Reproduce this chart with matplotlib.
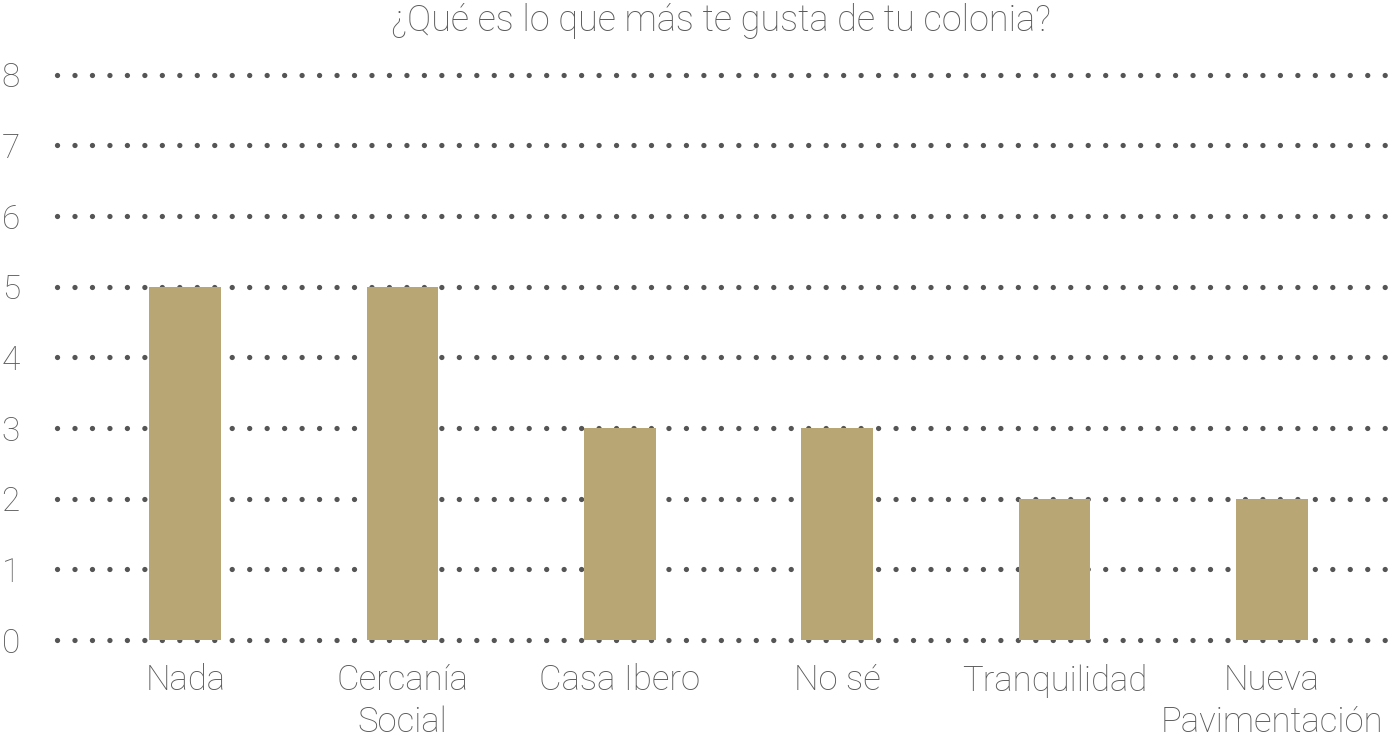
import matplotlib
import numpy as np
from matplotlib import pyplot as plt

# Data
categories = ['Nada', 'Cercanía\nSocial', 'Casa Ibero', 'No sé', 'Tranquilidad', 'Nueva\nPavimentación']
counts = [5, 5, 3, 3, 2, 2]
y_ticks = [0, 1, 2, 3, 4, 5, 6, 7, 8]
title = '¿Qué es lo que más te gusta de tu colonia?'

# Plot aspects
bar_color = '#b8a774'
dot_color = '#555555'
text_color = '#5a5a5a'
plt.rcParams['font.family'] = ['Roboto', 'DejaVu Sans']
plt.rcParams['font.weight'] = 'light'

fig = plt.figure(figsize=(14, 7.43), dpi=100)
ax = fig.add_axes([0.036, 0.129, 0.964, 0.78])

x = np.arange(len(categories))
ax.bar(x, counts, width=0.33, color=bar_color, zorder=3)

# dotted grid lines
for yv in y_ticks:
    ax.axhline(yv, xmin=0.005, xmax=0.997, color=dot_color, linewidth=3.8,
               linestyle=(0, (0.01, 3.3)), dash_capstyle='round', zorder=1)

ax.set_xlim(-0.62, 5.59)
ax.set_ylim(-0.1, 8.1)
ax.set_xticks(x)
ax.set_xticklabels(categories, fontsize=25, color=text_color, linespacing=1.3)
ax.set_yticks(y_ticks)
ax.set_yticklabels([str(v) for v in y_ticks], fontsize=24, color=text_color)
ax.tick_params(axis='both', length=0)
ax.tick_params(axis='x', pad=12)
ax.tick_params(axis='y', pad=22)
for spine in ax.spines.values():
    spine.set_visible(False)

fig.text(0.515, 0.972, title, ha='center', va='center', fontsize=26, color=text_color)

fig.savefig('out.png', dpi=100)
